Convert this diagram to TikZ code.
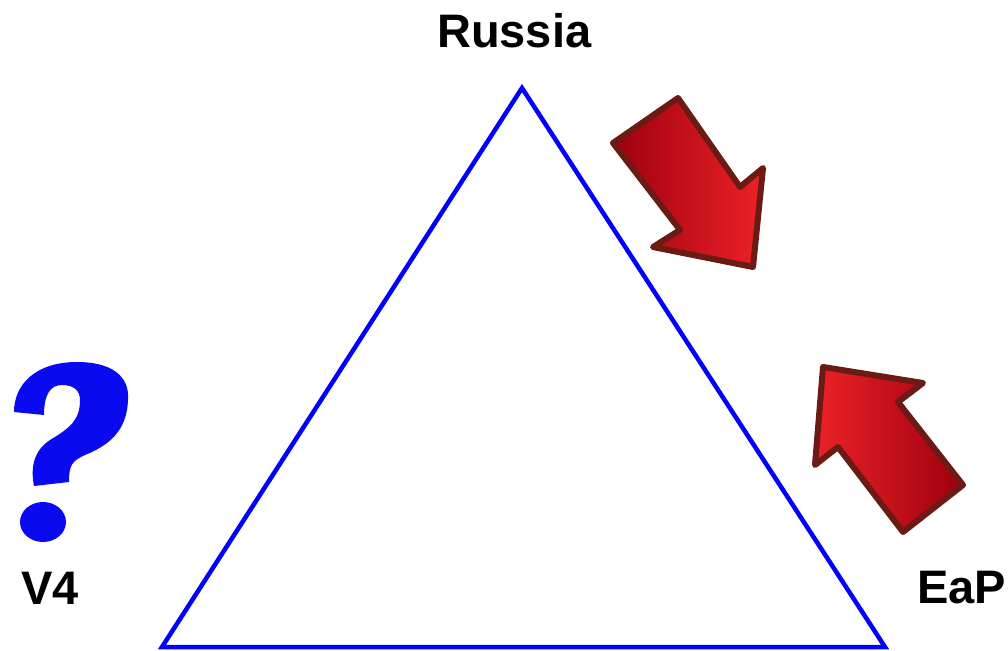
\documentclass[tikz,border=0pt]{standalone}
\usepackage{fontspec}
\setmainfont{Liberation Sans}
\begin{document}
\begin{tikzpicture}[x=1pt,y=-1pt,
  lbl/.style={anchor=base west,inner sep=0pt,font=\fontsize{47}{47}\selectfont\bfseries},
  redarrow/.style={draw=arrowline,line width=6pt,line join=round}]
\definecolor{arrowline}{HTML}{6B1A14}
\definecolor{darkred}{HTML}{9E0010}
\definecolor{brightred}{HTML}{EC2226}
\definecolor{qblue}{HTML}{0A0AF0}
\useasboundingbox[fill=white] (0,0) rectangle (1008,650);
% triangle
\coordinate (top) at (522,88);
\coordinate (bl) at (162,647);
\coordinate (br) at (885,647);
\draw[blue,line width=4.5pt,line join=miter] (top) -- (bl) -- (br) -- cycle;
% labels
\node[lbl] (russia) at (437,48) {Russia};
\node[lbl] (v4) at (21,604) {V4};
\node[lbl] (eap) at (917,603) {EaP};
% question mark
\fill[qblue] (14,412) .. controls (14,385) and (35,362) .. (77,362)
  .. controls (110,362) and (130,375) .. (128,400)
  .. controls (127,430) and (110,445) .. (85,455)
  .. controls (72,461) and (69,465) .. (69,482)
  -- (34,486)
  .. controls (30,465) and (35,450) .. (50,440)
  .. controls (70,428) and (80,420) .. (80,400)
  .. controls (80,390) and (73,385) .. (62,385)
  .. controls (50,385) and (44,395) .. (44,415) -- cycle;
\fill[qblue] (43,522) ellipse [x radius=23, y radius=20];
% top arrow (pointing down-right)
\shade[redarrow,left color=darkred,right color=brightred]
  (613,143) -- (678,98) -- (740,187) -- (763,168) -- (753,267)
  -- (653,247) -- (680,230) -- cycle;
% bottom arrow (pointing up-left)
\shade[redarrow,left color=brightred,right color=darkred]
  (823,367) -- (923,383) -- (898,402) -- (963,485) -- (903,532)
  -- (838,447) -- (815,465) -- cycle;
\end{tikzpicture}
\end{document}
